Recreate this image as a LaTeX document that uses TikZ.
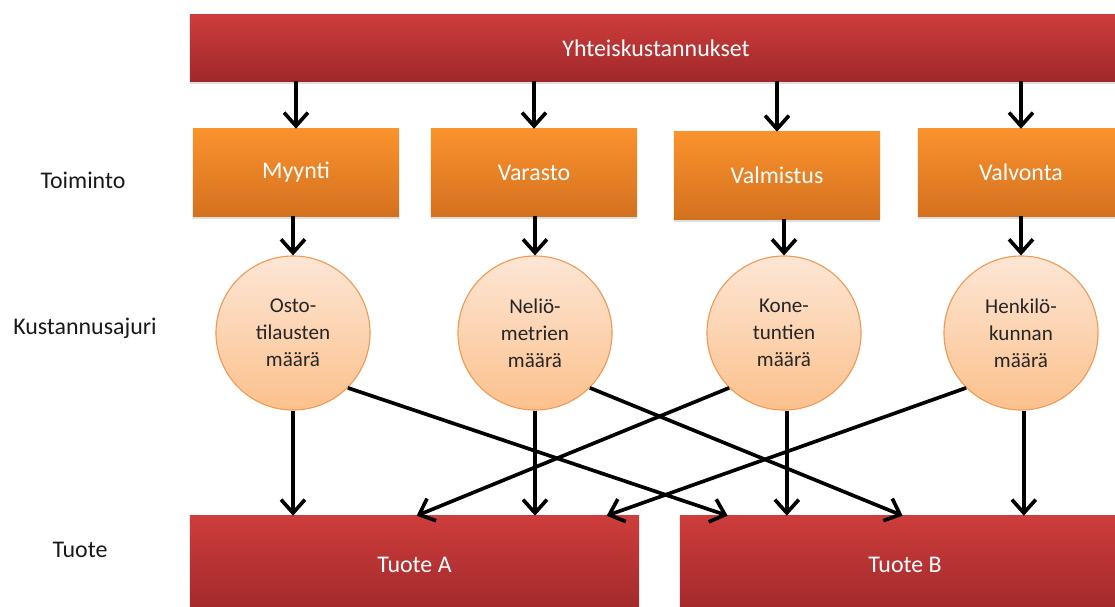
\documentclass[tikz,border=0pt]{standalone}
\usepackage{fontspec}
\setmainfont{Carlito}
\usetikzlibrary{arrows.meta,calc,shadows}

\definecolor{rougeH}{HTML}{CD3D3B}
\definecolor{rougeB}{HTML}{A0282A}
\definecolor{orangeH}{HTML}{FA922D}
\definecolor{orangeB}{HTML}{D4711F}
\definecolor{pecheH}{HTML}{FDE6D5}
\definecolor{pecheB}{HTML}{FBC18C}
\definecolor{pecheBord}{HTML}{F29A55}

\tikzset{
  boiterouge/.style={rectangle, top color=rougeH, bottom color=rougeB,
    text=white, font=\fontsize{17}{20}\selectfont,
    drop shadow={shadow xshift=0pt, shadow yshift=-2pt, opacity=0.25}},
  boiteorange/.style={rectangle, top color=orangeH, bottom color=orangeB,
    text=white, font=\fontsize{17}{20}\selectfont,
    minimum width=5.15cm, minimum height=2.175cm,
    drop shadow={shadow xshift=0pt, shadow yshift=-2pt, opacity=0.25}},
  inducteur/.style={circle, top color=pecheH, bottom color=pecheB,
    draw=pecheBord, line width=0.8pt, minimum size=3.85cm, inner sep=0pt,
    align=center, text=black!85, font=\fontsize{15}{19.2}\selectfont},
  niveau/.style={text=black!90, font=\fontsize{17}{20}\selectfont},
  fleche/.style={line width=2.6pt, -{Straight Barb[length=9.5pt,width=17pt]}}
}

\begin{document}
\begin{tikzpicture}[x=0.025cm, y=-0.025cm]
\useasboundingbox (0,0) rectangle (1115,606);

% Les coûts communs en haut
\node[boiterouge, minimum width=23.3cm, minimum height=1.65cm] (yhteis) at (656,48) {Yhteiskustannukset};

% Les activités
\node[boiteorange] (myynti) at (296,172.5) {Myynti};
\node[boiteorange] (varasto) at (534,172.5) {Varasto};
\node[boiteorange] (valmistus) at (777,175.5) {Valmistus};
\node[boiteorange] (valvonta) at (1021,172.5) {Valvonta};

% Les inducteurs de coût
\node[inducteur] (osto) at (293,333) {Osto-\\tilausten\\määrä};
\node[inducteur] (nelio) at (535,333) {Neliö-\\metrien\\määrä};
\node[inducteur] (kone) at (784,333) {Kone-\\tuntien\\määrä};
\node[inducteur] (henk) at (1021,333) {Henkilö-\\kunnan\\määrä};

% Les produits
\node[boiterouge, minimum width=11.225cm, minimum height=2.45cm] (tuoteA) at (414.5,565) {Tuote A};
\node[boiterouge, minimum width=11.25cm, minimum height=2.45cm] (tuoteB) at (905,565) {Tuote B};

% Les niveaux à gauche
\node[niveau] (toiminto) at (83,180) {Toiminto};
\node[niveau] (ajuri) at (85,328) {Kustannusajuri};
\node[niveau] (tuote) at (80,550) {Tuote};

% Des coûts communs vers les activités
\foreach \b in {myynti,varasto,valmistus,valvonta}
  \draw[fleche] (\b.north |- yhteis.south) -- (\b.north);

% Des activités vers les inducteurs
\draw[fleche] (osto.north |- myynti.south) -- (osto.north);
\draw[fleche] (nelio.north |- varasto.south) -- (nelio.north);
\draw[fleche] (kone.north |- valmistus.south) -- (kone.north);
\draw[fleche] (henk.north |- valvonta.south) -- (henk.north);

% Les flèches verticales vers les produits
\draw[fleche] (osto.south) -- (osto.south |- tuoteA.north);
\draw[fleche] (nelio.south) -- (nelio.south |- tuoteA.north);
\draw[fleche] ([xshift=2pt]kone.south) -- ([xshift=2pt]kone.south |- tuoteB.north);
\draw[fleche] ([xshift=2pt]henk.south) -- ([xshift=2pt]henk.south |- tuoteB.north);

% Les flèches croisées
\draw[fleche] (osto.-45) -- ($(tuoteB.north west)+(48,0)$);
\draw[fleche] (nelio.-45) -- ($(tuoteB.north west)+(223,0)$);
\draw[fleche] (kone.-135) -- ($(tuoteA.north west)+(227,0)$);
\draw[fleche] (henk.-135) -- ($(tuoteA.north west)+(417,0)$);
\end{tikzpicture}
\end{document}
